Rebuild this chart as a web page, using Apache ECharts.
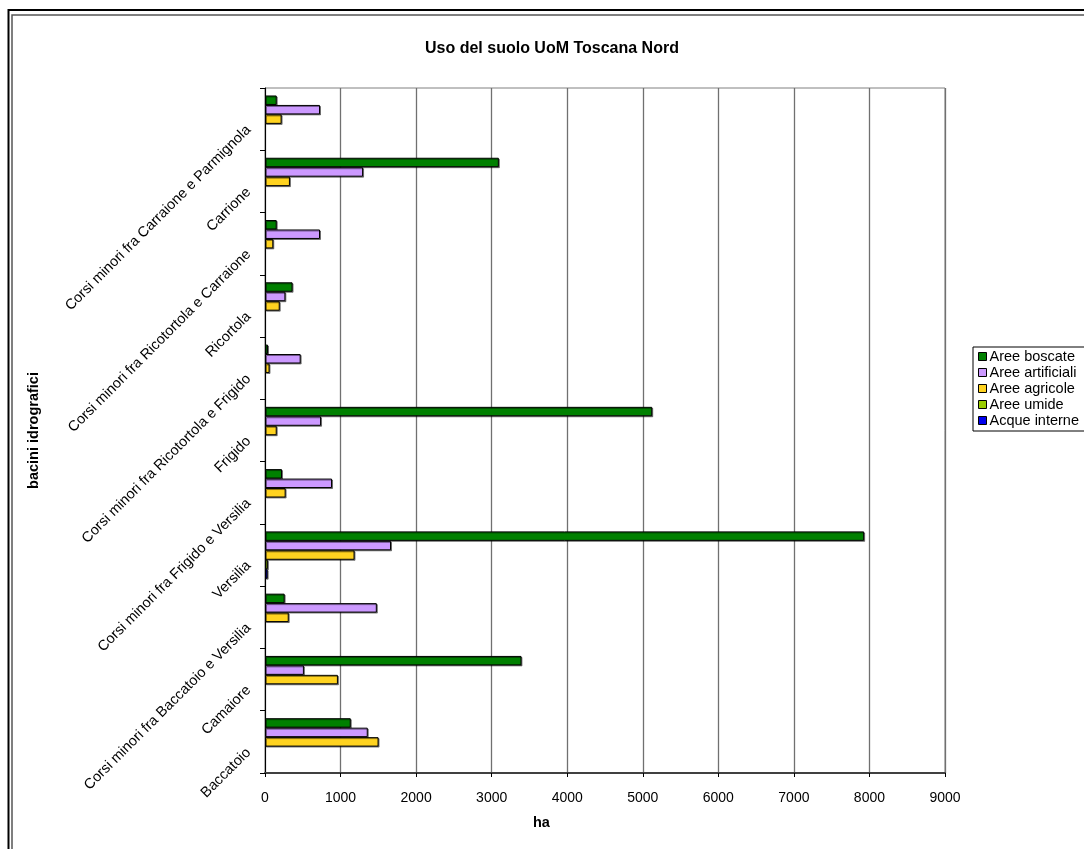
<!DOCTYPE html>
<html>
<head>
<meta charset="utf-8">
<script src="https://cdn.jsdelivr.net/npm/echarts@6/dist/echarts.min.js"></script>
<style>html,body{margin:0;padding:0;background:#fff;}#c{width:1084px;height:849px;}</style>
</head>
<body>
<div id="c"></div>
<script>
var categories = ['Corsi minori fra Carraione e Parmignola','Carrione','Corsi minori fra Ricotortola e Carraione','Ricortola','Corsi minori fra Ricotortola e Frigido','Frigido','Corsi minori fra Frigido e Versilia','Versilia','Corsi minori fra Baccatoio e Versilia','Camaiore','Baccatoio'];
var seriesNames = ['Aree boscate','Aree artificiali','Aree agricole','Aree umide','Acque interne'];
var boscate = [155, 3095, 155, 365, 40, 5125, 225, 7930, 260, 3395, 1135];
var artificiali = [728, 1298, 728, 270, 472, 742, 887, 1668, 1480, 515, 1360];
var agricole = [220, 330, 110, 195, 60, 155, 273, 1185, 314, 965, 1503];
var umide = [0, 0, 0, 0, 0, 0, 0, 38, 0, 0, 0];
var acque = [0, 0, 0, 0, 0, 0, 0, 35, 0, 0, 0];
var xTicks = [0, 1000, 2000, 3000, 4000, 5000, 6000, 7000, 8000, 9000];

var colors = ['#008000', '#CC99FF', '#FFD320', '#99CC00', '#0000EE'];
var values = [boscate, artificiali, agricole, umide, acque];
var FONT = 'Liberation Sans, Arial, sans-serif';

var chart = echarts.init(document.getElementById('c'), null, {renderer: 'canvas'});
var series = seriesNames.map(function (n, i) {
  return {
    name: n,
    type: 'bar',
    data: values[i].map(function (v) { return v === 0 ? null : v; }),
    barGap: '0%',
    barCategoryGap: '24%',
    itemStyle: {
      color: colors[i],
      borderColor: '#000',
      borderWidth: 1,
      shadowColor: 'rgba(0,0,0,0.45)',
      shadowOffsetX: 1,
      shadowOffsetY: 1,
      shadowBlur: 0
    },
    emphasis: {disabled: true}
  };
});

chart.setOption({
  animation: false,
  backgroundColor: '#fff',
  textStyle: {fontFamily: FONT},
  title: [{
    text: 'Uso del suolo UoM Toscana Nord',
    left: 425, top: 41,
    padding: 0,
    textStyle: {fontSize: 16, fontWeight: 'bold', color: '#000', fontFamily: FONT}
  }, {
    text: 'ha',
    left: 533, top: 815,
    padding: 0,
    textStyle: {fontSize: 14.5, fontWeight: 'bold', color: '#000', fontFamily: FONT}
  }],
  graphic: [
    {type: 'rect', shape: {x: 8.5, y: 10, width: 2000, height: 2000}, style: {fill: 'none', stroke: '#000', lineWidth: 2}, silent: true},
    {type: 'rect', shape: {x: 12, y: 15, width: 2000, height: 2000}, style: {fill: 'none', stroke: '#555', lineWidth: 1.5}, silent: true}
  ],
  legend: {
    orient: 'vertical',
    left: 973, top: 347,
    data: seriesNames,
    icon: 'rect',
    itemWidth: 8, itemHeight: 8,
    itemGap: 1,
    padding: [2, 40, 3, 5],
    borderColor: '#000', borderWidth: 1,
    backgroundColor: '#fff',
    itemStyle: {borderColor: '#000', borderWidth: 1, shadowBlur: 0, shadowOffsetX: 0, shadowOffsetY: 0},
    textStyle: {fontSize: 14.5, color: '#000', fontFamily: FONT, padding: [0, 0, 0, -2], lineHeight: 15},
    selectedMode: false
  },
  grid: {
    left: 265, right: 139, top: 88, bottom: 76,
    show: true, borderColor: '#808080', borderWidth: 1, containLabel: false
  },
  xAxis: {
    type: 'value', min: 0, max: 9000, interval: 1000,
    axisLine: {show: true, lineStyle: {color: '#404040', width: 2}},
    axisTick: {show: true, length: 4, lineStyle: {color: '#000'}},
    splitLine: {show: true, lineStyle: {color: '#707070', width: 1.3}},
    axisLabel: {fontSize: 14, color: '#000', margin: 18, fontFamily: FONT,
      formatter: function (v) { return xTicks.indexOf(v) >= 0 ? String(v) : ''; }}
  },
  yAxis: {
    type: 'category', data: categories, inverse: true,
    name: 'bacini idrografici', nameLocation: 'middle', nameGap: 224, nameRotate: 90,
    nameTextStyle: {fontSize: 14.5, fontWeight: 'bold', color: '#000', fontFamily: FONT},
    axisLine: {show: true, lineStyle: {color: '#000', width: 1}},
    axisTick: {show: true, length: 5, inside: false, lineStyle: {color: '#000'}},
    axisLabel: {rotate: 45, fontSize: 14.5, color: '#000', margin: 8, fontFamily: FONT, interval: 0,
      padding: [24, 12, 0, 0]},
    splitLine: {show: false}
  },
  series: series
});
</script>
</body>
</html>
